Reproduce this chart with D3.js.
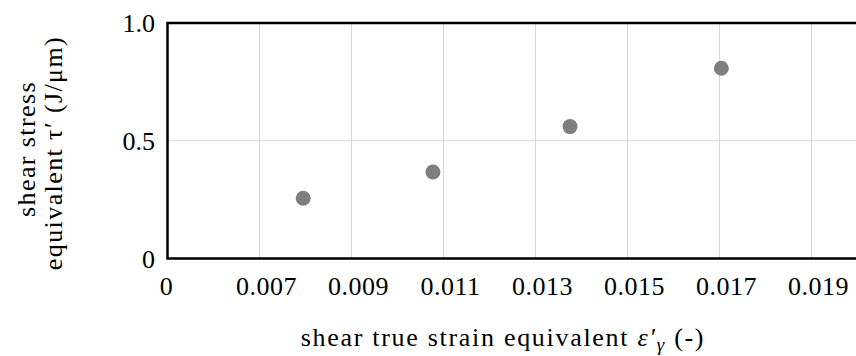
<!DOCTYPE html>
<html>
<head>
<meta charset="utf-8">
<script src="https://cdn.jsdelivr.net/npm/d3@7"></script>
<style>
  body { margin: 0; background: #fff; }
  text { font-family: "Liberation Serif", "DejaVu Serif", serif; fill: #000; }
</style>
</head>
<body>
<div id="chart"></div>
<script>
var strain = [0.00795, 0.01077, 0.01375, 0.01704];
var stress = [0.256, 0.367, 0.560, 0.808];

var xTicks = [0.005, 0.007, 0.009, 0.011, 0.013, 0.015, 0.017, 0.019];
var xTickLabels = ["0", "0.007", "0.009", "0.011", "0.013", "0.015", "0.017", "0.019"];
var yTicks = [0, 0.5, 1.0];
var yTickLabels = ["0", "0.5", "1.0"];

var svg = d3.select("#chart").append("svg")
            .attr("width", 856)
            .attr("height", 356);

var x = d3.scaleLinear().domain([0.005, 0.021]).range([167.5, 903.5]);
var y = d3.scaleLinear().domain([0, 1]).range([258.5, 23]);

// gridlines
svg.selectAll("line.vgrid")
   .data(xTicks.slice(1))
   .enter()
   .append("line")
   .attr("class", "vgrid")
   .attr("x1", function (d) { return x(d); })
   .attr("x2", function (d) { return x(d); })
   .attr("y1", y(1))
   .attr("y2", y(0))
   .style("stroke", "#d9d9d9")
   .style("stroke-width", 1);

svg.selectAll("line.hgrid")
   .data(yTicks.slice(1, -1))
   .enter()
   .append("line")
   .attr("class", "hgrid")
   .attr("x1", x(0.005))
   .attr("x2", x(0.021))
   .attr("y1", function (d) { return y(d); })
   .attr("y2", function (d) { return y(d); })
   .style("stroke", "#d9d9d9")
   .style("stroke-width", 1);

// plot border
svg.append("rect")
   .attr("x", x(0.005))
   .attr("y", y(1))
   .attr("width", x(0.021) - x(0.005))
   .attr("height", y(0) - y(1))
   .style("fill", "none")
   .style("stroke", "#000")
   .style("stroke-width", 2.5);

// points
svg.selectAll("circle")
   .data(strain)
   .enter()
   .append("circle")
   .attr("cx", function (d) { return x(d); })
   .attr("cy", function (d, i) { return y(stress[i]); })
   .attr("r", 7.5)
   .style("fill", "#7f7f7f");

// tick labels
svg.selectAll("text.xtick")
   .data(xTicks)
   .enter()
   .append("text")
   .attr("class", "xtick")
   .attr("x", function (d, i) { return x(d) + (i === 0 ? -1 : 7); })
   .attr("y", 295)
   .attr("text-anchor", "middle")
   .style("font-size", "26px")
   .style("letter-spacing", "0.5px")
   .text(function (d, i) { return xTickLabels[i]; });

svg.selectAll("text.ytick")
   .data(yTicks)
   .enter()
   .append("text")
   .attr("class", "ytick")
   .attr("x", 155)
   .attr("y", function (d) { return y(d) + 9; })
   .attr("text-anchor", "end")
   .style("font-size", "26px")
   .text(function (d, i) { return yTickLabels[i]; });

// axis titles
var xTitle = svg.append("text")
   .attr("x", 503)
   .attr("y", 346)
   .attr("text-anchor", "middle")
   .style("font-size", "26px")
   .style("letter-spacing", "1.7px");
xTitle.append("tspan").text("shear true strain equivalent ");
xTitle.append("tspan").style("font-style", "italic").text("ε\u2032");
xTitle.append("tspan").style("font-style", "italic").attr("dy", 5).style("font-size", "19px").text("γ");
xTitle.append("tspan").attr("dy", -5).text("  (-)");

var yTitle = svg.append("g").attr("transform", "translate(35,149) rotate(-90)");
yTitle.append("text")
   .attr("text-anchor", "middle")
   .style("font-size", "26px")
   .style("letter-spacing", "1.4px")
   .text("shear stress");
yTitle.append("text")
   .attr("text-anchor", "middle")
   .attr("x", -4)
   .attr("y", 27)
   .style("font-size", "26px")
   .style("letter-spacing", "1.4px")
   .text("equivalent τ\u2032 (J/μm)");
</script>
</body>
</html>
